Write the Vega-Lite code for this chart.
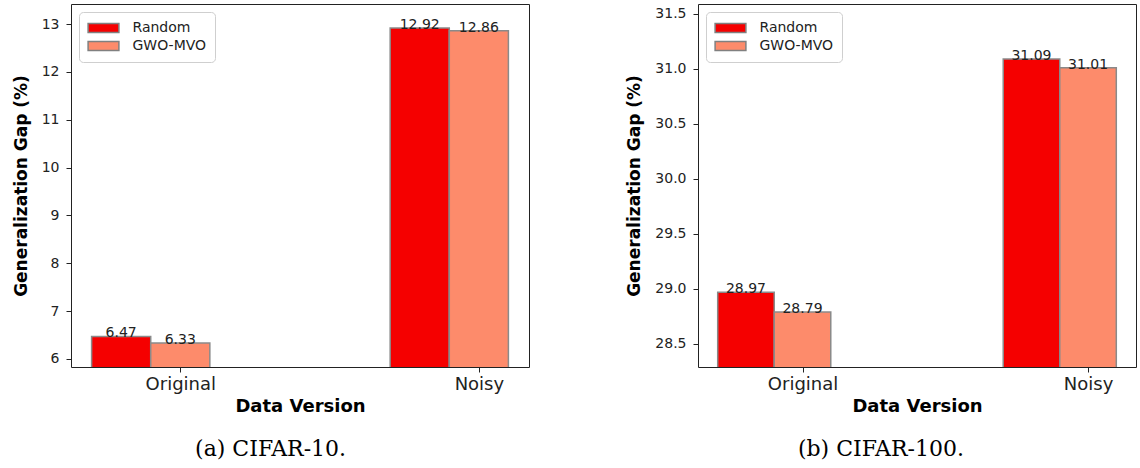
{
  "$schema": "https://vega.github.io/schema/vega-lite/v6.json",
  "padding": {"left": 11, "top": 3, "right": 0, "bottom": 0},
  "background": "white",
  "config": {
    "view": {"stroke": "#222222", "strokeWidth": 1},
    "axis": {"domain": false, "grid": false, "tickColor": "#222222", "labelColor": "#222222", "titleColor": "#000000", "labelFont": "DejaVu Sans", "titleFont": "DejaVu Sans", "tickSize": 5},
    "title": {"font": "DejaVu Serif", "fontSize": 22, "fontWeight": "normal", "color": "#000000"}
  },
  "spacing": 95,
  "resolve": {"scale": {"x": "independent", "y": "independent", "color": "independent", "xOffset": "independent"}, "legend": {"color": "independent"}},
  "hconcat": [
    {
      "width": 458,
      "height": 363,
      "title": {"text": "(a) CIFAR-10.", "orient": "bottom", "anchor": "middle", "frame": "bounds", "offset": 24},
      "data": {"values": [
        {"version": "Original", "method": "Random", "gap": 6.47},
        {"version": "Original", "method": "GWO-MVO", "gap": 6.33},
        {"version": "Noisy", "method": "Random", "gap": 12.92},
        {"version": "Noisy", "method": "GWO-MVO", "gap": 12.86}
      ]},
      "encoding": {
        "x": {"field": "version", "type": "nominal", "sort": ["Original", "Noisy"], "scale": {"paddingInner": 0.604, "paddingOuter": 0.069},
          "axis": {"title": "Data Version", "labelAngle": 0, "tickOffset": 29.6, "labelFontSize": 18, "labelPadding": 3, "titleFontSize": 18, "titleFontWeight": "bold", "titlePadding": 4}},
        "xOffset": {"field": "method", "type": "nominal", "sort": ["Random", "GWO-MVO"], "scale": {"paddingInner": 0, "paddingOuter": 0}},
        "y": {"field": "gap", "type": "quantitative", "scale": {"domain": [5.83, 13.42], "zero": false, "nice": false},
          "axis": {"title": "Generalization Gap (%)", "values": [6, 7, 8, 9, 10, 11, 12, 13], "labelFontSize": 14, "labelPadding": 7, "titleFontSize": 17, "titleFontWeight": "bold", "titlePadding": 11}}
      },
      "layer": [
        {
          "mark": {"type": "bar", "stroke": "#8a8a8a", "strokeWidth": 1.5, "clip": true},
          "encoding": {
            "color": {"field": "method", "type": "nominal", "sort": ["Random", "GWO-MVO"], "scale": {"domain": ["Random", "GWO-MVO"], "range": ["#f50000", "#fd8b6b"]},
              "legend": {"title": null, "orient": "top-left", "offset": 8, "padding": 8, "strokeColor": "#cfcfcf", "fillColor": "white", "cornerRadius": 4,
                "symbolType": "M-2.2,-0.64L2.2,-0.64L2.2,0.64L-2.2,0.64Z", "symbolSize": 196, "symbolStrokeColor": "#808080", "symbolStrokeWidth": 1.5, "symbolOpacity": 1, "symbolOffset": 8.5,
                "labelOffset": 21, "labelFontSize": 14, "labelFont": "DejaVu Sans", "labelColor": "#222222", "rowPadding": 2}}
          }
        },
        {
          "mark": {"type": "text", "baseline": "alphabetic", "dy": 1, "font": "DejaVu Sans", "fontSize": 14, "color": "#222222"},
          "encoding": {"text": {"field": "gap", "type": "quantitative", "format": ".2f"}}
        }
      ]
    },
    {
      "width": 438,
      "height": 363,
      "title": {"text": "(b) CIFAR-100.", "orient": "bottom", "anchor": "middle", "frame": "bounds", "offset": 24},
      "data": {"values": [
        {"version": "Original", "method": "Random", "gap": 28.97},
        {"version": "Original", "method": "GWO-MVO", "gap": 28.79},
        {"version": "Noisy", "method": "Random", "gap": 31.09},
        {"version": "Noisy", "method": "GWO-MVO", "gap": 31.01}
      ]},
      "encoding": {
        "x": {"field": "version", "type": "nominal", "sort": ["Original", "Noisy"], "scale": {"paddingInner": 0.604, "paddingOuter": 0.069},
          "axis": {"title": "Data Version", "labelAngle": 0, "tickOffset": 28.3, "labelFontSize": 18, "labelPadding": 3, "titleFontSize": 18, "titleFontWeight": "bold", "titlePadding": 4}},
        "xOffset": {"field": "method", "type": "nominal", "sort": ["Random", "GWO-MVO"], "scale": {"paddingInner": 0, "paddingOuter": 0}},
        "y": {"field": "gap", "type": "quantitative", "scale": {"domain": [28.29, 31.59], "zero": false, "nice": false},
          "axis": {"title": "Generalization Gap (%)", "values": [28.5, 29, 29.5, 30, 30.5, 31, 31.5], "format": ".1f", "labelFontSize": 14, "labelPadding": 7, "titleFontSize": 17, "titleFontWeight": "bold", "titlePadding": 11}}
      },
      "layer": [
        {
          "mark": {"type": "bar", "stroke": "#8a8a8a", "strokeWidth": 1.5, "clip": true},
          "encoding": {
            "color": {"field": "method", "type": "nominal", "sort": ["Random", "GWO-MVO"], "scale": {"domain": ["Random", "GWO-MVO"], "range": ["#f50000", "#fd8b6b"]},
              "legend": {"title": null, "orient": "top-left", "offset": 8, "padding": 8, "strokeColor": "#cfcfcf", "fillColor": "white", "cornerRadius": 4,
                "symbolType": "M-2.2,-0.64L2.2,-0.64L2.2,0.64L-2.2,0.64Z", "symbolSize": 196, "symbolStrokeColor": "#808080", "symbolStrokeWidth": 1.5, "symbolOpacity": 1, "symbolOffset": 8.5,
                "labelOffset": 21, "labelFontSize": 14, "labelFont": "DejaVu Sans", "labelColor": "#222222", "rowPadding": 2}}
          }
        },
        {
          "mark": {"type": "text", "baseline": "alphabetic", "dy": 1, "font": "DejaVu Sans", "fontSize": 14, "color": "#222222"},
          "encoding": {"text": {"field": "gap", "type": "quantitative", "format": ".2f"}}
        }
      ]
    }
  ]
}
